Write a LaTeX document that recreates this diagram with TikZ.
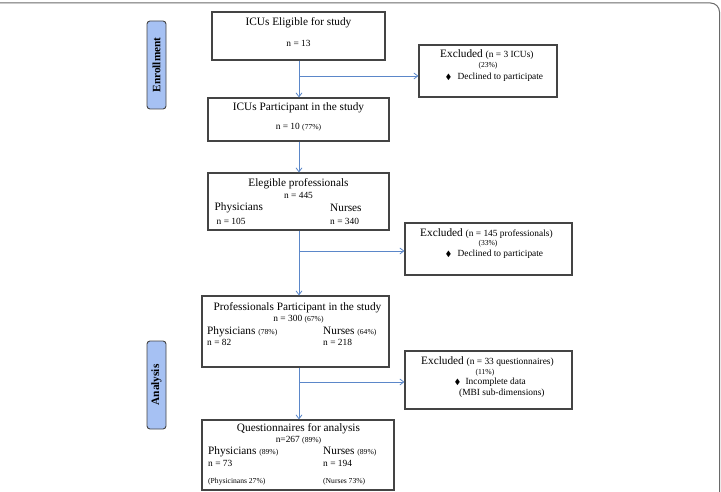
\documentclass[tikz,border=0pt]{standalone}
\usepackage{amssymb}
\usepackage{fontspec}
\setmainfont{Liberation Serif}
\usetikzlibrary{arrows.meta}
\newcommand{\fbig}{\fontsize{11.3}{13}\selectfont}
\newcommand{\fmid}{\fontsize{9.4}{11}\selectfont}
\newcommand{\fsml}{\fontsize{7.6}{9}\selectfont}
\newcommand{\flab}{\fontsize{11.3}{13}\selectfont\bfseries}
\definecolor{arrblue}{HTML}{5B87C9}
\definecolor{boxgray}{HTML}{444444}
\definecolor{labblue}{HTML}{A6C1F3}
\begin{document}
\begin{tikzpicture}[x=1pt,y=-1pt,
  box/.style={draw=boxgray, line width=1.1pt, inner sep=0pt},
  lab/.style={draw=boxgray, line width=0.9pt, fill=labblue, rounded corners=3pt, inner sep=0pt, minimum width=19pt, minimum height=88pt},
  txt/.style={inner sep=0pt},
  arr/.style={draw=arrblue, line width=0.8pt, -{Straight Barb[length=4pt,width=6pt]}}]
\useasboundingbox (0,0) rectangle (721,492);
\draw[draw=boxgray!80, line width=1pt, rounded corners=9pt] (-12,3) rectangle (719.5,505);
% stage labels
\node[lab] (enr) at (156.5,65) {};
\node[txt, rotate=90, font=\flab] (enrt) at (enr.center) {Enrollment};
\node[lab] (ana) at (156.5,385) {};
\node[txt, rotate=90, font=\flab] (anat) at (ana.center) {Analysis};
% main boxes
\node[box, minimum width=173pt, minimum height=48pt] (b1) at (298.5,36) {};
\node[box, minimum width=181pt, minimum height=43pt] (b2) at (298.5,119.5) {};
\node[box, minimum width=181pt, minimum height=57pt] (b3) at (298.5,201.5) {};
\node[box, minimum width=187pt, minimum height=71pt] (b4) at (295.5,331.5) {};
\node[box, minimum width=192pt, minimum height=70pt] (b5) at (298,455) {};
% excluded boxes
\node[box, minimum width=138pt, minimum height=52pt] (e1) at (488,71) {};
\node[box, minimum width=167pt, minimum height=52pt] (e2) at (488.5,249) {};
\node[box, minimum width=167pt, minimum height=58pt] (e3) at (488.5,380) {};
% box 1 text
\node[txt, font=\fbig] (t1a) at (298.5,23) {ICUs Eligible for study};
\node[txt, font=\fmid] (t1b) at (298.5,43.5) {n = 13};
% box 2 text
\node[txt, font=\fbig] (t2a) at (298.5,108) {ICUs Participant in the study};
\node[txt, font=\fmid] (t2b) at (298.5,127.5) {n = 10 {\fsml(77\%)}};
% box 3 text
\node[txt, font=\fbig] (t3a) at (298.5,184) {Elegible professionals};
\node[txt, font=\fmid] (t3b) at (298.5,195.5) {n = 445};
\node[txt, font=\fbig, anchor=west] (t3c) at (214.5,208) {Physicians};
\node[txt, font=\fmid, anchor=west] (t3d) at (216.5,221) {n = 105};
\node[txt, font=\fbig, anchor=west] (t3e) at (330,208) {Nurses};
\node[txt, font=\fmid, anchor=west] (t3f) at (330,221) {n = 340};
% box 4 text
\node[txt, font=\fbig] (t4a) at (297.5,308) {Professionals Participant in the study};
\node[txt, font=\fmid] (t4b) at (298.5,319.5) {n = 300 {\fsml(67\%)}};
\node[txt, font=\fbig, anchor=west] (t4c) at (207,332) {Physicians {\fsml(78\%)}};
\node[txt, font=\fmid, anchor=west] (t4d) at (207,342.5) {n = 82};
\node[txt, font=\fbig, anchor=west] (t4e) at (323,332) {Nurses {\fsml(64\%)}};
\node[txt, font=\fmid, anchor=west] (t4f) at (323,342.5) {n = 218};
% box 5 text
\node[txt, font=\fbig] (t5a) at (298.5,428.5) {Questionnaires for analysis};
\node[txt, font=\fmid] (t5b) at (298.5,440) {n=267 {\fsml(89\%)}};
\node[txt, font=\fbig, anchor=west] (t5c) at (208,452) {Physicians {\fsml(89\%)}};
\node[txt, font=\fmid, anchor=west] (t5d) at (208,463.5) {n = 73};
\node[txt, font=\fsml, anchor=west] (t5e) at (208,482) {(Physicinans 27\%)};
\node[txt, font=\fbig, anchor=west] (t5f) at (323,452) {Nurses {\fsml(89\%)}};
\node[txt, font=\fmid, anchor=west] (t5g) at (323,463.5) {n = 194};
\node[txt, font=\fsml, anchor=west] (t5h) at (323,482) {(Nurses 73\%)};
% excluded 1 text
\node[txt, font=\fbig, anchor=west] (x1a) at (440,55) {Excluded {\fmid(n = 3 ICUs)}};
\node[txt, font=\fsml] (x1b) at (488,65.5) {(23\%)};
\node[txt, font=\fmid, anchor=west] (x1c) at (445.5,77) {{\fsml$\blacklozenge$}\hspace{6pt}Declined to participate};
% excluded 2 text
\node[txt, font=\fbig, anchor=west] (x2a) at (420,234) {Excluded {\fmid(n = 145 professionals)}};
\node[txt, font=\fsml] (x2b) at (488,243.5) {(33\%)};
\node[txt, font=\fmid, anchor=west] (x2c) at (445.5,254) {{\fsml$\blacklozenge$}\hspace{6pt}Declined to participate};
% excluded 3 text
\node[txt, font=\fbig, anchor=west] (x3a) at (421,362) {Excluded {\fmid(n = 33 questionnaires)}};
\node[txt, font=\fsml] (x3b) at (485,372.5) {(11\%)};
\node[txt, font=\fmid, anchor=west] (x3c) at (454.5,382.5) {{\fsml$\blacklozenge$}\hspace{5pt}Incomplete data};
\node[txt, font=\fmid, anchor=west] (x3d) at (459,393.5) {(MBI sub-dimensions)};
% connectors
\coordinate (j1) at (299,76);
\coordinate (j2) at (299,251);
\coordinate (j3) at (299,382);
\draw[arr] (b1.south -| j1) -- (b2.north -| j1);
\draw[arr] (j1) -- (j1 -| e1.west);
\draw[arr] (b2.south -| j1) -- (b3.north -| j1);
\draw[arr] (b3.south -| j2) -- (b4.north -| j2);
\draw[arr] (j2) -- (j2 -| e2.west);
\draw[arr] (b4.south -| j3) -- (b5.north -| j3);
\draw[arr] (j3) -- (j3 -| e3.west);
\end{tikzpicture}
\end{document}
